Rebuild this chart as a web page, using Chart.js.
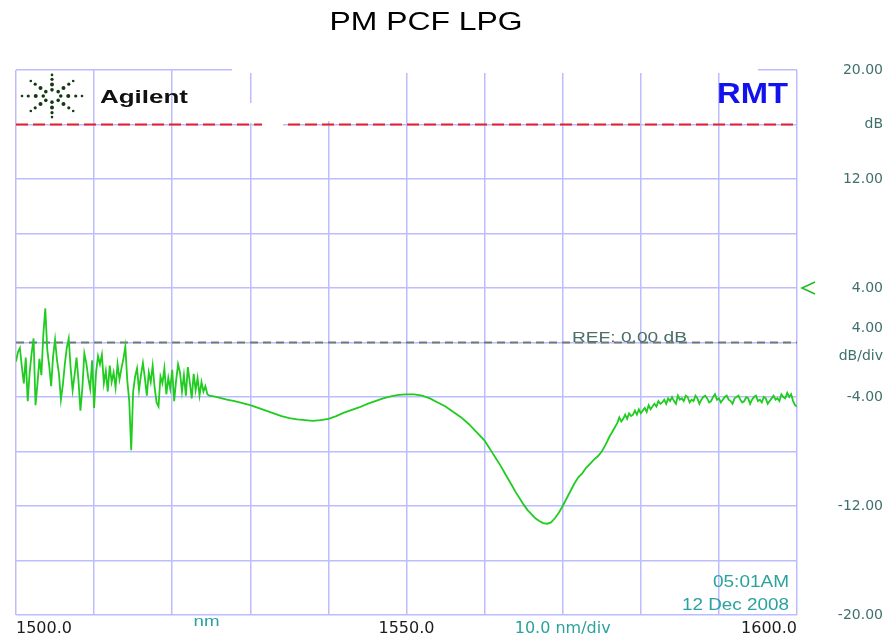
<!DOCTYPE html>
<html>
<head>
<meta charset="utf-8">
<script src="https://cdn.jsdelivr.net/npm/chart.js@4"></script>
<style>
  body { margin: 0; background: #fff; }
  canvas { display: block; }
</style>
</head>
<body>
<canvas id="chartCanvas" width="888" height="639"></canvas>
<script>
// OSA trace, 1500-1600 nm, 4 dB/div
const wavelengthNm = [
  1500.00,1500.25,1500.50,1500.75,1501.00,1501.25,1501.50,1501.75,1502.00,1502.25,
  1502.50,1502.75,1503.00,1503.25,1503.50,1503.75,1504.00,1504.25,1504.50,1504.75,
  1505.00,1505.25,1505.50,1505.75,1506.00,1506.25,1506.50,1506.75,1507.00,1507.25,
  1507.50,1507.75,1508.00,1508.25,1508.50,1508.75,1509.00,1509.25,1509.50,1509.75,
  1510.00,1510.25,1510.50,1510.75,1511.00,1511.25,1511.50,1511.75,1512.00,1512.25,
  1512.50,1512.75,1513.00,1513.25,1513.50,1513.75,1514.00,1514.25,1514.50,1514.75,
  1515.00,1515.25,1515.50,1515.75,1516.00,1516.25,1516.50,1516.75,1517.00,1517.25,
  1517.50,1517.75,1518.00,1518.25,1518.50,1518.75,1519.00,1519.25,1519.50,1519.75,
  1520.00,1520.25,1520.50,1520.75,1521.00,1521.25,1521.50,1521.75,1522.00,1522.25,
  1522.50,1522.75,1523.00,1523.25,1523.50,1523.75,1524.00,1524.25,1524.50,1524.75,
  1525.5,1526,1527,1528,1529,1530,1531,1532,1533,1534,1535,1536,1537,1538,1539,1540,
  1541,1542,1543,1544,1545,1546,1547,1548,1549,1550,1551,1552,1553,1554,1555,
  1556,1557,1558,1559,1560,1560.5,1561,1561.5,1562,1562.5,1563,1563.5,1564,1564.5,
  1565,1565.5,1566,1566.5,1567,1567.5,1568,1568.5,1569,1569.5,1570,1570.5,
  1571,1571.5,1572,1572.5,1573,1573.5,1574,1574.5,1575,1575.5,1576,1576.5,
  1577.00,1577.25,1577.50,1577.75,1578.00,1578.25,1578.50,1578.75,1579.00,1579.25,
  1579.50,1579.75,1580.00,1580.25,1580.50,1580.75,1581.00,1581.25,1581.50,1581.75,
  1582.00,1582.25,1582.50,1582.75,1583.00,1583.25,1583.50,1583.75,1584.00,1584.25,
  1584.50,1584.75,1585.00,1585.25,1585.50,1585.75,1586.00,1586.25,1586.50,1586.75,
  1587.00,1587.25,1587.50,1587.75,1588.00,1588.25,1588.50,1588.75,1589.00,1589.25,
  1589.50,1589.75,1590.00,1590.25,1590.50,1590.75,1591.00,1591.25,1591.50,1591.75,
  1592.00,1592.25,1592.50,1592.75,1593.00,1593.25,1593.50,1593.75,1594.00,1594.25,
  1594.50,1594.75,1595.00,1595.25,1595.50,1595.75,1596.00,1596.25,1596.50,1596.75,
  1597.00,1597.25,1597.50,1597.75,1598.00,1598.25,1598.50,1598.75,1599.00,1599.25,
  1599.50,1599.75,1600.00
];
const powerDb = [
  -1.4,-0.7,-0.4,-1.8,-3.0,-1.1,-4.3,-2.2,-0.8,0.3,
  -4.6,-3.0,-1.2,-2.4,0.6,2.5,-0.5,-1.7,-3.2,-1.0,
  0.2,-1.3,-2.3,-4.2,-3.1,-1.6,-0.4,0.3,-1.9,-3.5,
  -2.4,-1.1,-2.8,-5.0,-3.3,-0.8,-1.5,-2.6,-3.4,-1.3,
  -4.8,-2.2,-1.0,-1.6,-0.9,-3.0,-2.1,-3.6,-1.7,-2.9,
  -2.2,-3.3,-1.6,-2.7,-1.9,-1.2,-0.3,-2.8,-4.3,-7.9,
  -3.6,-2.5,-1.9,-3.5,-2.4,-1.5,-2.6,-3.9,-2.2,-2.9,
  -1.7,-3.3,-4.4,-4.7,-2.5,-3.0,-1.9,-3.8,-2.6,-3.4,
  -2.0,-4.3,-2.8,-1.6,-2.2,-3.6,-2.4,-3.9,-1.8,-2.9,
  -4.1,-2.3,-3.5,-2.6,-3.9,-2.9,-3.6,-3.2,-3.8,-3.9,
  -3.98,-4.05,-4.2,-4.3,-4.45,-4.6,-4.8,-5.0,-5.2,-5.4,-5.55,-5.65,-5.7,-5.75,-5.7,-5.6,
  -5.4,-5.15,-4.95,-4.75,-4.5,-4.3,-4.1,-3.95,-3.85,-3.8,-3.8,-3.9,-4.1,-4.4,-4.7,
  -5.1,-5.5,-6.0,-6.6,-7.2,-7.65,-8.1,-8.55,-9.0,-9.5,-10.0,-10.5,-11.0,-11.45,
  -11.9,-12.3,-12.6,-12.9,-13.1,-13.25,-13.3,-13.2,-12.9,-12.5,-12.0,-11.45,
  -10.9,-10.35,-9.9,-9.6,-9.2,-8.9,-8.6,-8.35,-8.0,-7.5,-6.9,-6.4,
  -5.9,-5.5,-5.8,-5.6,-5.3,-5.6,-5.2,-5.4,-5.3,-5.0,
  -5.3,-4.9,-5.2,-5.0,-4.8,-5.1,-4.6,-4.9,-4.7,-4.5,
  -4.7,-4.3,-4.5,-4.4,-4.2,-4.5,-4.1,-4.3,-4.0,-4.3,
  -4.5,-3.9,-4.2,-4.1,-4.3,-3.9,-4.0,-4.4,-4.2,-4.3,
  -3.9,-4.1,-4.5,-4.2,-4.0,-3.9,-4.1,-4.4,-4.3,-4.0,
  -3.8,-4.2,-4.1,-4.4,-4.2,-4.0,-3.9,-4.2,-4.3,-4.5,
  -4.1,-4.0,-3.9,-4.2,-4.4,-4.3,-4.0,-4.1,-4.5,-4.2,
  -4.0,-3.9,-4.3,-4.2,-4.4,-4.0,-4.1,-4.5,-4.3,-4.1,
  -3.9,-4.2,-4.1,-4.3,-3.8,-4.0,-4.1,-3.7,-4.0,-3.8,
  -4.3,-4.6,-4.7
];

const refLevelDb = 0;        // grey dashed REF line
const upperMarkerDb = 16;    // red dashed line
const levelMarkerDb = 4;     // green "<" on the right edge

const xTickLabels = { 1500: '1500.0', 1550: '1550.0', 1570: '10.0 nm/div', 1600: '1600.0' };
const yTickLabels = { 20: '20.00', 16: 'dB', 12: '12.00', 4: '4.00', 0: ['4.00', 'dB/div'],
                      '-4': '-4.00', '-12': '-12.00', '-20': '-20.00' };

const TEAL = '#2aa29e';
const GRID = '#bcbcff';

function stretchText(ctx, text, x, y, width, font, color, align) {
  ctx.save();
  ctx.font = font;
  ctx.fillStyle = color;
  ctx.textBaseline = 'alphabetic';
  ctx.textAlign = align;
  const s = width / ctx.measureText(text).width;
  ctx.translate(x, y);
  ctx.scale(s, 1);
  ctx.fillText(text, 0, 0);
  ctx.restore();
}

const screenPlugin = {
  id: 'screen',
  afterDatasetsDraw(chart) {
    const ctx = chart.ctx;
    const area = chart.chartArea;
    const xs = chart.scales.x;
    const ys = chart.scales.y;

    // white patches of the scanned screen
    ctx.save();
    ctx.fillStyle = '#fff';
    ctx.fillRect(232, area.top - 3, 526, 6);
    ctx.fillRect(262, ys.getPixelForValue(upperMarkerDb) - 4, 21, 8);
    ctx.fillRect(327, area.top + 3, 5, 48);
    ctx.fillRect(248, area.top + 33, 6, 20);
    ctx.restore();

    // Agilent logo
    ctx.save();
    ctx.fillStyle = '#133a13';
    const cx = 52, cy = 96;
    for (let k = 0; k < 8; k++) {
      const a = k * Math.PI / 4;
      [[7, 1.8], [13, 2.0], [19, 1.6], [24, 1.3]].forEach(([d, r]) => {
        ctx.beginPath();
        ctx.arc(cx + Math.cos(a) * d * 1.25, cy + Math.sin(a) * d * 0.88, r, 0, Math.PI * 2);
        ctx.fill();
      });
    }
    ctx.restore();
    stretchText(ctx, 'Agilent', 100, 103, 88, 'bold 19px "Liberation Sans"', '#111', 'left');
    stretchText(ctx, 'RMT', 717, 103, 71, 'bold 29px "Liberation Sans"', '#1212ee', 'left');

    stretchText(ctx, 'REF: 0.00 dB', 572, ys.getPixelForValue(refLevelDb) - 1, 115,
                '15px "Liberation Sans"', '#4b6f69', 'left');
    stretchText(ctx, '05:01AM', area.right - 8, area.bottom - 28, 76, '16px "Liberation Sans"', TEAL, 'right');
    stretchText(ctx, '12 Dec 2008', area.right - 8, area.bottom - 5, 107, '16px "Liberation Sans"', TEAL, 'right');
    stretchText(ctx, 'nm', xs.getPixelForValue(1524.4), area.bottom + 11, 26, '15px "Liberation Sans"', TEAL, 'center');

    // level marker
    const my = ys.getPixelForValue(levelMarkerDb);
    ctx.save();
    ctx.strokeStyle = '#22bb22';
    ctx.lineWidth = 1.6;
    ctx.beginPath();
    ctx.moveTo(area.right + 18, my - 6);
    ctx.lineTo(area.right + 5, my);
    ctx.lineTo(area.right + 18, my + 6);
    ctx.stroke();
    ctx.restore();

    stretchText(ctx, 'PM PCF LPG', 426, 30, 193, '25px "Liberation Sans"', '#000', 'center');
  }
};

new Chart(document.getElementById('chartCanvas').getContext('2d'), {
  type: 'line',
  data: {
    datasets: [
      {
        label: 'trace',
        data: wavelengthNm.map((x, i) => ({ x, y: powerDb[i] })),
        borderColor: '#20cc20',
        borderWidth: 1.8,
        pointRadius: 0,
        tension: 0,
        order: 0
      },
      {
        label: 'ref',
        data: [{ x: 1500, y: refLevelDb }, { x: 1600, y: refLevelDb }],
        borderColor: '#6d7d76',
        borderWidth: 2,
        borderDash: [8, 5],
        pointRadius: 0,
        order: 1
      },
      {
        label: 'upper',
        data: [{ x: 1500, y: upperMarkerDb }, { x: 1600, y: upperMarkerDb }],
        borderColor: '#e3202a',
        borderWidth: 2,
        borderDash: [12, 5],
        pointRadius: 0,
        order: 2
      }
    ]
  },
  options: {
    responsive: false,
    animation: false,
    devicePixelRatio: 1,
    layout: { padding: { top: 70, left: 16, right: 5, bottom: 0 } },
    plugins: { legend: { display: false }, tooltip: { enabled: false }, title: { display: false } },
    scales: {
      x: {
        type: 'linear',
        min: 1500,
        max: 1600,
        border: { display: false },
        grid: { color: GRID, lineWidth: 1.5, drawTicks: false },
        afterFit: (s) => { s.height = 24; s.paddingLeft = 0; s.paddingRight = 0; },
        ticks: {
          stepSize: 10,
          autoSkip: false,
          maxRotation: 0,
          align: 'inner',
          padding: 4,
          font: { family: 'DejaVu Sans', size: 16 },
          color: (c) => c.tick && c.tick.value === 1570 ? TEAL : '#1c1c1c',
          callback: (v) => xTickLabels[v] || ''
        }
      },
      y: {
        position: 'right',
        min: -20,
        max: 20,
        border: { display: false },
        grid: { color: GRID, lineWidth: 1.5, drawTicks: false },
        afterFit: (s) => { s.width = 86; s.paddingTop = 0; s.paddingBottom = 0; },
        ticks: {
          stepSize: 4,
          autoSkip: false,
          crossAlign: 'far',
          padding: 4,
          font: { family: 'DejaVu Sans', size: 14, lineHeight: 2 },
          color: '#3f706c',
          callback: (v) => yTickLabels[v] || ''
        }
      }
    }
  },
  plugins: [screenPlugin]
});
</script>
</body>
</html>
